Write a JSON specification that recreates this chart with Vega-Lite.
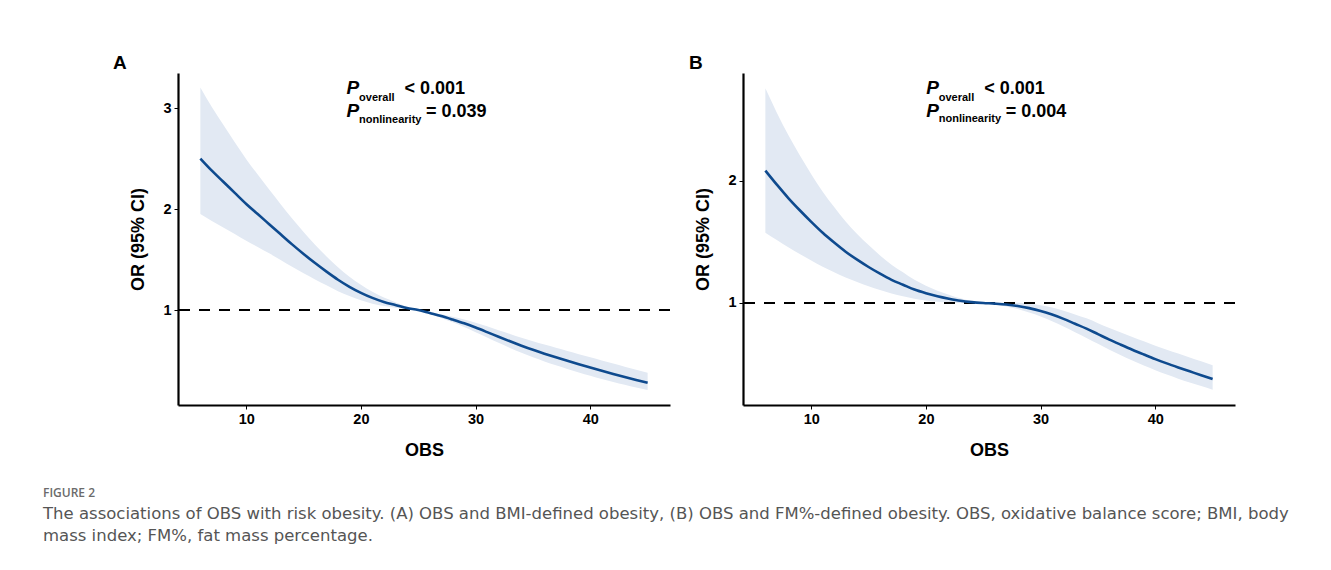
{
  "$schema": "https://vega.github.io/schema/vega-lite/v6.json",
  "padding": {"left": 43, "top": 54, "right": 5, "bottom": 5},
  "background": "white",
  "datasets": {
    "A": [
      {"OBS": 6, "OR": 2.50, "lower": 1.951, "upper": 3.204},
      {"OBS": 7, "OR": 2.38, "lower": 1.882, "upper": 3.010},
      {"OBS": 8, "OR": 2.27, "lower": 1.818, "upper": 2.834},
      {"OBS": 9, "OR": 2.16, "lower": 1.753, "upper": 2.662},
      {"OBS": 10, "OR": 2.05, "lower": 1.685, "upper": 2.494},
      {"OBS": 11, "OR": 1.95, "lower": 1.624, "upper": 2.342},
      {"OBS": 12, "OR": 1.85, "lower": 1.561, "upper": 2.193},
      {"OBS": 13, "OR": 1.75, "lower": 1.496, "upper": 2.048},
      {"OBS": 14, "OR": 1.65, "lower": 1.429, "upper": 1.906},
      {"OBS": 15, "OR": 1.555, "lower": 1.364, "upper": 1.773},
      {"OBS": 16, "OR": 1.465, "lower": 1.303, "upper": 1.647},
      {"OBS": 17, "OR": 1.38, "lower": 1.244, "upper": 1.531},
      {"OBS": 18, "OR": 1.30, "lower": 1.187, "upper": 1.424},
      {"OBS": 19, "OR": 1.23, "lower": 1.138, "upper": 1.330},
      {"OBS": 20, "OR": 1.17, "lower": 1.096, "upper": 1.249},
      {"OBS": 21, "OR": 1.12, "lower": 1.063, "upper": 1.180},
      {"OBS": 22, "OR": 1.08, "lower": 1.039, "upper": 1.123},
      {"OBS": 23, "OR": 1.05, "lower": 1.023, "upper": 1.078},
      {"OBS": 24, "OR": 1.02, "lower": 1.007, "upper": 1.033},
      {"OBS": 25, "OR": 1.00, "lower": 1.000, "upper": 1.000},
      {"OBS": 26, "OR": 0.97, "lower": 0.962, "upper": 0.978},
      {"OBS": 27, "OR": 0.94, "lower": 0.922, "upper": 0.958},
      {"OBS": 28, "OR": 0.905, "lower": 0.878, "upper": 0.933},
      {"OBS": 29, "OR": 0.868, "lower": 0.831, "upper": 0.907},
      {"OBS": 30, "OR": 0.826, "lower": 0.780, "upper": 0.874},
      {"OBS": 31, "OR": 0.781, "lower": 0.728, "upper": 0.838},
      {"OBS": 32, "OR": 0.735, "lower": 0.675, "upper": 0.800},
      {"OBS": 33, "OR": 0.69, "lower": 0.624, "upper": 0.763},
      {"OBS": 34, "OR": 0.647, "lower": 0.577, "upper": 0.726},
      {"OBS": 35, "OR": 0.606, "lower": 0.532, "upper": 0.691},
      {"OBS": 36, "OR": 0.568, "lower": 0.491, "upper": 0.658},
      {"OBS": 37, "OR": 0.532, "lower": 0.452, "upper": 0.626},
      {"OBS": 38, "OR": 0.497, "lower": 0.416, "upper": 0.594},
      {"OBS": 39, "OR": 0.463, "lower": 0.381, "upper": 0.563},
      {"OBS": 40, "OR": 0.43, "lower": 0.348, "upper": 0.532},
      {"OBS": 41, "OR": 0.398, "lower": 0.316, "upper": 0.501},
      {"OBS": 42, "OR": 0.367, "lower": 0.287, "upper": 0.470},
      {"OBS": 43, "OR": 0.337, "lower": 0.259, "upper": 0.439},
      {"OBS": 44, "OR": 0.308, "lower": 0.232, "upper": 0.408},
      {"OBS": 45, "OR": 0.28, "lower": 0.207, "upper": 0.378}
    ],
    "B": [
      {"OBS": 6, "OR": 2.085, "lower": 1.576, "upper": 2.759},
      {"OBS": 7, "OR": 1.97, "lower": 1.516, "upper": 2.560},
      {"OBS": 8, "OR": 1.86, "lower": 1.456, "upper": 2.376},
      {"OBS": 9, "OR": 1.76, "lower": 1.401, "upper": 2.211},
      {"OBS": 10, "OR": 1.665, "lower": 1.348, "upper": 2.056},
      {"OBS": 11, "OR": 1.575, "lower": 1.297, "upper": 1.912},
      {"OBS": 12, "OR": 1.495, "lower": 1.251, "upper": 1.786},
      {"OBS": 13, "OR": 1.42, "lower": 1.209, "upper": 1.668},
      {"OBS": 14, "OR": 1.355, "lower": 1.172, "upper": 1.566},
      {"OBS": 15, "OR": 1.295, "lower": 1.137, "upper": 1.475},
      {"OBS": 16, "OR": 1.24, "lower": 1.106, "upper": 1.390},
      {"OBS": 17, "OR": 1.19, "lower": 1.078, "upper": 1.314},
      {"OBS": 18, "OR": 1.15, "lower": 1.056, "upper": 1.252},
      {"OBS": 19, "OR": 1.11, "lower": 1.035, "upper": 1.190},
      {"OBS": 20, "OR": 1.08, "lower": 1.021, "upper": 1.142},
      {"OBS": 21, "OR": 1.055, "lower": 1.011, "upper": 1.101},
      {"OBS": 22, "OR": 1.035, "lower": 1.003, "upper": 1.068},
      {"OBS": 23, "OR": 1.018, "lower": 0.999, "upper": 1.038},
      {"OBS": 24, "OR": 1.007, "lower": 0.999, "upper": 1.015},
      {"OBS": 25, "OR": 1.00, "lower": 1.000, "upper": 1.000},
      {"OBS": 26, "OR": 0.995, "lower": 0.988, "upper": 1.002},
      {"OBS": 27, "OR": 0.988, "lower": 0.972, "upper": 1.004},
      {"OBS": 28, "OR": 0.976, "lower": 0.950, "upper": 1.003},
      {"OBS": 29, "OR": 0.958, "lower": 0.922, "upper": 0.995},
      {"OBS": 30, "OR": 0.935, "lower": 0.890, "upper": 0.982},
      {"OBS": 31, "OR": 0.905, "lower": 0.851, "upper": 0.963},
      {"OBS": 32, "OR": 0.87, "lower": 0.808, "upper": 0.937},
      {"OBS": 33, "OR": 0.83, "lower": 0.761, "upper": 0.906},
      {"OBS": 34, "OR": 0.79, "lower": 0.714, "upper": 0.874},
      {"OBS": 35, "OR": 0.745, "lower": 0.665, "upper": 0.835},
      {"OBS": 36, "OR": 0.70, "lower": 0.616, "upper": 0.795},
      {"OBS": 37, "OR": 0.658, "lower": 0.571, "upper": 0.758},
      {"OBS": 38, "OR": 0.617, "lower": 0.528, "upper": 0.721},
      {"OBS": 39, "OR": 0.578, "lower": 0.487, "upper": 0.686},
      {"OBS": 40, "OR": 0.54, "lower": 0.449, "upper": 0.650},
      {"OBS": 41, "OR": 0.505, "lower": 0.413, "upper": 0.617},
      {"OBS": 42, "OR": 0.472, "lower": 0.380, "upper": 0.586},
      {"OBS": 43, "OR": 0.44, "lower": 0.349, "upper": 0.554},
      {"OBS": 44, "OR": 0.408, "lower": 0.319, "upper": 0.522},
      {"OBS": 45, "OR": 0.377, "lower": 0.290, "upper": 0.490}
    ]
  },
  "title": {
    "text": "FIGURE 2",
    "subtitle": [
      "The associations of OBS with risk obesity. (A) OBS and BMI-defined obesity, (B) OBS and FM%-defined obesity. OBS, oxidative balance score; BMI, body",
      "mass index; FM%, fat mass percentage."
    ],
    "orient": "bottom",
    "anchor": "start",
    "dx": -70,
    "offset": 28,
    "font": "Open Sans",
    "fontSize": 12,
    "fontWeight": 600,
    "color": "#6b6b6b",
    "subtitleFont": "DejaVu Sans",
    "subtitleFontSize": 16.5,
    "subtitleColor": "#555555",
    "subtitlePadding": 6,
    "subtitleLineHeight": 22
  },
  "spacing": 17,
  "hconcat": [
    {
      "width": 492,
      "height": 332,
      "title": {"text": "A", "anchor": "start", "frame": "group", "dx": -65, "offset": -15, "baseline": "alphabetic", "fontSize": 19, "fontWeight": "bold", "color": "black", "font": "Liberation Sans"},
      "data": {"name": "A"},
      "layer": [
        {
          "mark": {"type": "area", "color": "#e2e9f3", "interpolate": "monotone"},
          "encoding": {
            "x": {"field": "OBS", "type": "quantitative", "title": "OBS", "scale": {"domain": [4.05, 46.95], "nice": false, "zero": false}, "axis": {"values": [10, 20, 30, 40]}},
            "y": {"field": "lower", "type": "quantitative", "title": "OR (95% CI)", "scale": {"domain": [0.0594, 3.347], "nice": false, "zero": false}, "axis": {"values": [1, 2, 3], "format": "d"}},
            "y2": {"field": "upper"}
          }
        },
        {
          "data": {"values": [{"ref": 1}]},
          "mark": {"type": "rule", "color": "black", "strokeWidth": 2.2, "strokeDash": [11, 9]},
          "encoding": {"y": {"field": "ref", "type": "quantitative", "title": "OR (95% CI)"}}
        },
        {
          "mark": {"type": "line", "color": "#0e4a8e", "strokeWidth": 2.6, "interpolate": "monotone"},
          "encoding": {
            "x": {"field": "OBS", "type": "quantitative", "title": "OBS"},
            "y": {"field": "OR", "type": "quantitative", "title": "OR (95% CI)"}
          }
        },
        {
          "data": {"values": [{"t": "P"}]},
          "mark": {"type": "text", "align": "left", "baseline": "alphabetic", "fontSize": 19, "fontWeight": "bold", "fontStyle": "italic", "color": "black"},
          "encoding": {"x": {"datum": 18.75}, "y": {"datum": 3.139}, "text": {"field": "t"}}
        },
        {
          "data": {"values": [{"t": "overall"}]},
          "mark": {"type": "text", "align": "left", "baseline": "alphabetic", "fontSize": 11, "fontWeight": "bold", "color": "black"},
          "encoding": {"x": {"datum": 19.84}, "y": {"datum": 3.072}, "text": {"field": "t"}}
        },
        {
          "data": {"values": [{"t": "< 0.001"}]},
          "mark": {"type": "text", "align": "left", "baseline": "alphabetic", "fontSize": 18, "fontWeight": "bold", "color": "black"},
          "encoding": {"x": {"datum": 23.8}, "y": {"datum": 3.139}, "text": {"field": "t"}}
        },
        {
          "data": {"values": [{"t": "P"}]},
          "mark": {"type": "text", "align": "left", "baseline": "alphabetic", "fontSize": 19, "fontWeight": "bold", "fontStyle": "italic", "color": "black"},
          "encoding": {"x": {"datum": 18.75}, "y": {"datum": 2.908}, "text": {"field": "t"}}
        },
        {
          "data": {"values": [{"t": "nonlinearity"}]},
          "mark": {"type": "text", "align": "left", "baseline": "alphabetic", "fontSize": 11, "fontWeight": "bold", "color": "black"},
          "encoding": {"x": {"datum": 19.84}, "y": {"datum": 2.856}, "text": {"field": "t"}}
        },
        {
          "data": {"values": [{"t": "= 0.039"}]},
          "mark": {"type": "text", "align": "left", "baseline": "alphabetic", "fontSize": 18, "fontWeight": "bold", "color": "black"},
          "encoding": {"x": {"datum": 25.67}, "y": {"datum": 2.908}, "text": {"field": "t"}}
        }
      ]
    },
    {
      "width": 492,
      "height": 332,
      "title": {"text": "B", "anchor": "start", "frame": "group", "dx": -54, "offset": -15, "baseline": "alphabetic", "fontSize": 19, "fontWeight": "bold", "color": "black", "font": "Liberation Sans"},
      "data": {"name": "B"},
      "layer": [
        {
          "mark": {"type": "area", "color": "#e2e9f3", "interpolate": "monotone"},
          "encoding": {
            "x": {"field": "OBS", "type": "quantitative", "title": "OBS", "scale": {"domain": [4.05, 46.95], "nice": false, "zero": false}, "axis": {"values": [10, 20, 30, 40]}},
            "y": {"field": "lower", "type": "quantitative", "title": "OR (95% CI)", "scale": {"domain": [0.164, 2.885], "nice": false, "zero": false}, "axis": {"values": [1, 2], "format": "d"}},
            "y2": {"field": "upper"}
          }
        },
        {
          "data": {"values": [{"ref": 1}]},
          "mark": {"type": "rule", "color": "black", "strokeWidth": 2.2, "strokeDash": [11, 9]},
          "encoding": {"y": {"field": "ref", "type": "quantitative", "title": "OR (95% CI)"}}
        },
        {
          "mark": {"type": "line", "color": "#0e4a8e", "strokeWidth": 2.6, "interpolate": "monotone"},
          "encoding": {
            "x": {"field": "OBS", "type": "quantitative", "title": "OBS"},
            "y": {"field": "OR", "type": "quantitative", "title": "OR (95% CI)"}
          }
        },
        {
          "data": {"values": [{"t": "P"}]},
          "mark": {"type": "text", "align": "left", "baseline": "alphabetic", "fontSize": 19, "fontWeight": "bold", "fontStyle": "italic", "color": "black"},
          "encoding": {"x": {"datum": 20.03}, "y": {"datum": 2.713}, "text": {"field": "t"}}
        },
        {
          "data": {"values": [{"t": "overall"}]},
          "mark": {"type": "text", "align": "left", "baseline": "alphabetic", "fontSize": 11, "fontWeight": "bold", "color": "black"},
          "encoding": {"x": {"datum": 21.12}, "y": {"datum": 2.658}, "text": {"field": "t"}}
        },
        {
          "data": {"values": [{"t": "< 0.001"}]},
          "mark": {"type": "text", "align": "left", "baseline": "alphabetic", "fontSize": 18, "fontWeight": "bold", "color": "black"},
          "encoding": {"x": {"datum": 25.09}, "y": {"datum": 2.713}, "text": {"field": "t"}}
        },
        {
          "data": {"values": [{"t": "P"}]},
          "mark": {"type": "text", "align": "left", "baseline": "alphabetic", "fontSize": 19, "fontWeight": "bold", "fontStyle": "italic", "color": "black"},
          "encoding": {"x": {"datum": 20.03}, "y": {"datum": 2.522}, "text": {"field": "t"}}
        },
        {
          "data": {"values": [{"t": "nonlinearity"}]},
          "mark": {"type": "text", "align": "left", "baseline": "alphabetic", "fontSize": 11, "fontWeight": "bold", "color": "black"},
          "encoding": {"x": {"datum": 21.12}, "y": {"datum": 2.48}, "text": {"field": "t"}}
        },
        {
          "data": {"values": [{"t": "= 0.004"}]},
          "mark": {"type": "text", "align": "left", "baseline": "alphabetic", "fontSize": 18, "fontWeight": "bold", "color": "black"},
          "encoding": {"x": {"datum": 26.96}, "y": {"datum": 2.522}, "text": {"field": "t"}}
        }
      ]
    }
  ],
  "config": {
    "font": "Liberation Sans",
    "view": {"stroke": null},
    "axis": {
      "grid": false,
      "domainColor": "black",
      "domainWidth": 2.2,
      "tickColor": "black",
      "tickSize": 4,
      "tickWidth": 1,
      "labelColor": "black",
      "labelFont": "Liberation Sans",
      "labelFontSize": 14.5,
      "labelFontWeight": "bold",
      "labelPadding": 3,
      "titleColor": "black",
      "titleFont": "Liberation Sans",
      "titleFontSize": 18,
      "titleFontWeight": "bold"
    },
    "axisX": {"titlePadding": 16},
    "axisY": {"titlePadding": 15}
  }
}
